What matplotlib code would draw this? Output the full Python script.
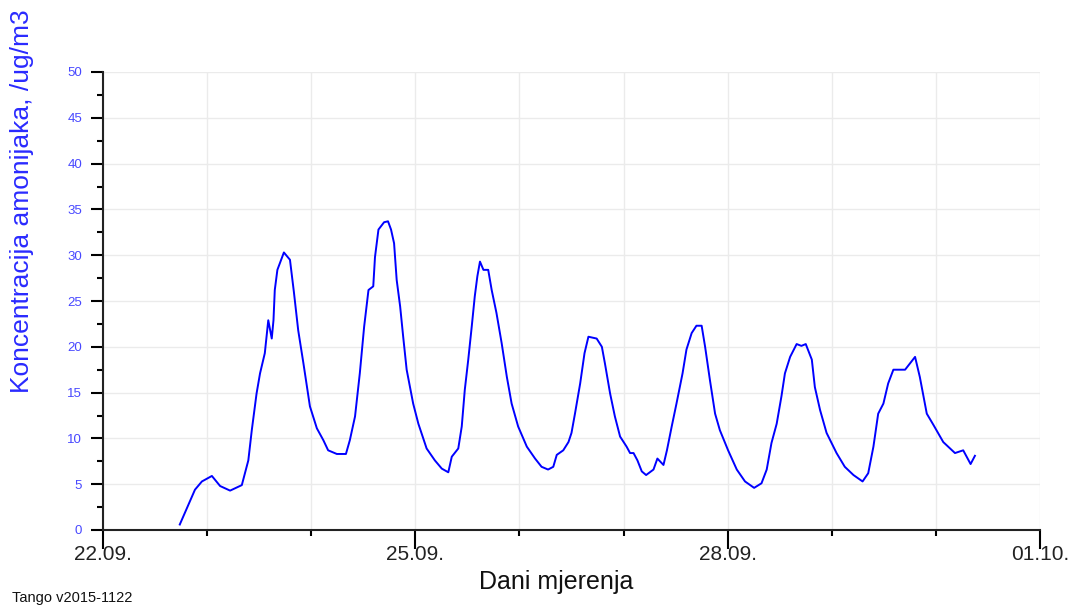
import datetime as dt

import matplotlib.pyplot as plt
import matplotlib.dates as mdates
from matplotlib.ticker import MultipleLocator

plt.rcParams['font.family'] = ['Liberation Sans', 'DejaVu Sans']

# mjerenje amonijaka, sati od 22.09. 00:00 i koncentracija u ug/m3
sati = [17.7, 21.2, 22.8, 25.1, 27.0, 29.3, 32.0, 33.5, 34.3, 35.4, 36.2, 37.3,
        38.1, 38.9, 39.3, 39.6, 40.2, 41.7, 43.1, 44.0, 45.0, 46.2, 47.7, 49.3,
        50.8, 51.9, 53.9, 56.0, 56.9, 58.1, 59.2, 60.2, 61.2, 62.3, 62.7, 63.5,
        64.8, 65.7, 66.4, 67.1, 67.7, 68.5, 69.2, 70.0, 71.5, 72.7, 74.6, 76.5,
        78.1, 79.6, 80.4, 81.9, 82.7, 83.4, 84.2, 85.0, 85.7, 86.3, 86.9, 87.7,
        88.8, 89.6, 90.7, 91.9, 93.1, 94.2, 95.7, 97.7, 99.6, 101.1, 102.6, 103.8,
        104.6, 106.1, 107.3, 108.0, 108.8, 110.0, 111.0, 111.9, 113.8, 115.0, 115.7, 116.9,
        118.0, 119.2, 120.7, 121.5, 122.3, 123.2, 124.2, 125.2, 126.9, 127.8, 129.2, 130.0,
        131.1, 132.2, 133.6, 134.5, 135.7, 136.8, 138.0, 138.8, 139.9, 141.1, 142.2, 144.1,
        146.1, 148.0, 150.1, 151.8, 153.0, 154.1, 155.3, 156.4, 157.2, 158.4, 159.9, 161.0,
        162.0, 163.4, 164.1, 165.3, 166.8, 169.1, 171.0, 173.0, 175.1, 176.4, 177.6, 178.7,
        179.9, 181.0, 182.2, 184.9, 187.2, 188.3, 189.9, 191.4, 193.7, 196.4, 198.3, 200.0,
        201.0]
koncentracija = [0.6, 4.4, 5.3, 5.9, 4.8, 4.3, 4.9, 7.6, 10.9, 14.9, 17.1, 19.3,
                 22.9, 20.9, 22.9, 26.2, 28.4, 30.3, 29.5, 26.0, 21.8, 18.2, 13.5, 11.1,
                 9.8, 8.7, 8.3, 8.3, 9.8, 12.4, 17.1, 22.2, 26.2, 26.6, 29.8, 32.8,
                 33.6, 33.7, 32.8, 31.3, 27.3, 24.4, 21.1, 17.5, 13.8, 11.6, 8.9, 7.6,
                 6.7, 6.3, 8.0, 8.9, 11.3, 15.3, 18.6, 22.2, 25.5, 27.7, 29.3, 28.4,
                 28.4, 26.2, 23.7, 20.4, 16.7, 13.8, 11.3, 9.1, 7.8, 6.9, 6.6, 6.9,
                 8.2, 8.7, 9.6, 10.6, 12.7, 16.0, 19.3, 21.1, 20.9, 20.0, 18.2, 14.9,
                 12.4, 10.2, 9.1, 8.4, 8.4, 7.6, 6.4, 6.0, 6.6, 7.8, 7.1, 8.7,
                 11.3, 13.8, 17.1, 19.7, 21.5, 22.3, 22.3, 20.0, 16.4, 12.7, 10.9, 8.7,
                 6.6, 5.3, 4.6, 5.1, 6.6, 9.5, 11.6, 14.6, 17.1, 18.9, 20.3, 20.1,
                 20.3, 18.6, 15.6, 13.1, 10.6, 8.4, 6.9, 6.0, 5.3, 6.2, 9.1, 12.7,
                 13.8, 16.0, 17.5, 17.5, 18.9, 16.7, 12.7, 11.5, 9.6, 8.4, 8.7, 7.2,
                 8.1]

pocetak = dt.datetime(2015, 9, 22)
kraj = dt.datetime(2015, 10, 1)
vrijeme = [pocetak + dt.timedelta(hours=h) for h in sati]

fig = plt.figure(figsize=(10.74, 6.07), dpi=100)
ax = fig.add_axes([103 / 1074, 77 / 607, 937 / 1074, 458 / 607])

ax.plot(vrijeme, koncentracija, color='#0000ff', linewidth=1.4, zorder=3)

ax.set_xlim(pocetak, kraj)
ax.set_ylim(0, 50)

ax.xaxis.set_major_locator(mdates.DayLocator(bymonthday=[22, 25, 28, 1]))
ax.xaxis.set_minor_locator(mdates.DayLocator())
ax.xaxis.set_major_formatter(mdates.DateFormatter('%d.%m.'))
ax.yaxis.set_major_locator(MultipleLocator(5))
ax.yaxis.set_minor_locator(MultipleLocator(2.5))

ax.grid(True, which='both', axis='x', color='#ebebeb', linewidth=1)
ax.grid(True, which='major', axis='y', color='#ebebeb', linewidth=1)
ax.set_axisbelow(True)

for s in ['top', 'right']:
    ax.spines[s].set_visible(False)
for s in ['left', 'bottom']:
    ax.spines[s].set_linewidth(1.5)
    ax.spines[s].set_color('#222222')

# duge glavne crtice ulaze u natpise datuma
ax.tick_params(axis='x', which='major', length=14, width=1.5, pad=-3,
               labelsize=15, labelcolor='#222222')
ax.tick_params(axis='x', which='minor', length=4, width=1.5)
ax.tick_params(axis='y', which='major', length=9, width=1.5, pad=6,
               labelsize=9.5, labelcolor='#4848ff')
ax.tick_params(axis='y', which='minor', length=4, width=1.5)

ax.set_xlabel('Dani mjerenja', fontsize=18, color='#111111', va='center')
ax.xaxis.set_label_coords(0.4835, -0.1135)
ax.set_ylabel('Koncentracija amonijaka, /ug/m3', fontsize=19, color='#2a2aff',
              va='center')
ax.yaxis.set_label_coords(-0.0864, 0.718)

fig.text(12 / 1074, 9 / 607, 'Tango v2015-1122', fontsize=10.5, color='#111111',
         va='center', ha='left')

fig.savefig('out.png', dpi=100)
